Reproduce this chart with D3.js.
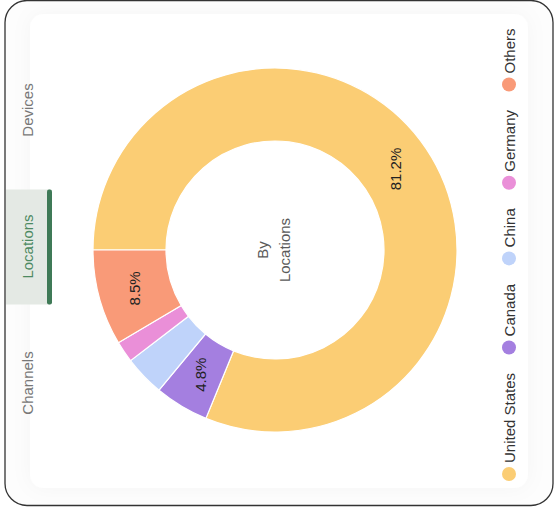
<!DOCTYPE html>
<html lang="en">
<head>
  <meta charset="UTF-8">
  <title>By Locations donut</title>
  <script src="https://d3js.org/d3.v7.min.js"></script>
  <style>
    body { margin: 0; background: #fff; }
    svg { display: block; font-family: "Liberation Sans", Arial, sans-serif; }
    .tab { font-size: 15px; fill: #777; }
    .tab.active { fill: #4d8a62; }
    .slice { stroke: #fff; stroke-width: 1.2px; }
    .pct { font-size: 15px; fill: #222; }
    .legend text { font-size: 15px; fill: #333; }
    .center { font-size: 15px; fill: #5a5a5a; }
  </style>
</head>
<body>
  <script>
    // chart data
    const countries = ["United States", "Canada", "China", "Germany", "Others"];
    const shares = [81.2, 4.8, 3.6, 1.9, 8.5];
    const sliceColors = ["#fbcd74", "#a47fe0", "#bfd3fa", "#ea8fd8", "#f99a78"];
    const tabs = ["Devices", "Locations", "Channels"];
    const activeTab = "Locations";

    const width = 555;
    const height = 508;

    const svg = d3.select("body").append("svg")
      .attr("width", width)
      .attr("height", height);

    const defs = svg.append("defs");
    const shadow = defs.append("filter").attr("id", "soft")
      .attr("x", "-10%").attr("y", "-10%").attr("width", "120%").attr("height", "120%");
    shadow.append("feDropShadow")
      .attr("dx", 0).attr("dy", 0)
      .attr("stdDeviation", 10)
      .attr("flood-color", "#000")
      .attr("flood-opacity", 0.035);

    // card frame
    svg.append("rect")
      .attr("x", 5).attr("y", 0.5)
      .attr("width", 548).attr("height", 505)
      .attr("rx", 22)
      .attr("fill", "#fdfdfd")
      .attr("stroke", "#333")
      .attr("stroke-width", 1.3);

    // inner panel
    svg.append("rect")
      .attr("x", 30).attr("y", 14)
      .attr("width", 498).attr("height", 474)
      .attr("rx", 14)
      .attr("fill", "#fff")
      .attr("filter", "url(#soft)");

    // tabs (rotated, on the left)
    const tabY = d3.scalePoint().domain(tabs).range([110, 383]);
    const active = tabY(activeTab);
    svg.append("rect")
      .attr("x", 6).attr("y", active - 57)
      .attr("width", 44).attr("height", 115)
      .attr("fill", "#e4e9e4");
    svg.append("rect")
      .attr("x", 47).attr("y", active - 57)
      .attr("width", 5).attr("height", 115)
      .attr("rx", 2)
      .attr("fill", "#3f7a57");

    svg.selectAll(".tab")
      .data(tabs)
      .enter().append("text")
      .attr("class", d => d === activeTab ? "tab active" : "tab")
      .attr("text-anchor", "middle")
      .attr("dominant-baseline", "central")
      .attr("transform", d => `translate(27.5,${tabY(d)}) rotate(-90)`)
      .text(d => d);

    // donut
    const cx = 275, cy = 250;
    const outerR = 182, innerR = 109;

    const color = d3.scaleOrdinal().domain(countries).range(sliceColors);

    const pie = d3.pie()
      .value((d, i) => shares[i])
      .sort(null)
      .startAngle(-Math.PI / 2)
      .endAngle(3 * Math.PI / 2);

    const arc = d3.arc().innerRadius(innerR).outerRadius(outerR);

    const arcs = pie(countries);
    const g = svg.append("g").attr("transform", `translate(${cx},${cy})`);

    g.selectAll(".slice")
      .data(arcs)
      .enter().append("path")
      .attr("class", "slice")
      .attr("d", arc)
      .attr("fill", d => color(d.data));

    g.selectAll(".pct")
      .data(arcs.filter(d => d.value >= 4))
      .enter().append("text")
      .attr("class", "pct")
      .attr("text-anchor", "middle")
      .attr("dominant-baseline", "central")
      .attr("transform", d => {
        const [x, y] = arc.centroid(d);
        return `translate(${x},${y}) rotate(-90)`;
      })
      .text(d => d.value.toFixed(1) + "%");

    // centre label
    const center = g.append("text")
      .attr("class", "center")
      .attr("text-anchor", "middle")
      .attr("transform", "translate(-2,0) rotate(-90)");
    center.append("tspan").attr("x", 0).attr("dy", "-0.35em").text("By");
    center.append("tspan").attr("x", 0).attr("dy", "1.45em").text("Locations");

    // legend (rotated, on the right, reading upward)
    const legend = svg.append("g").attr("class", "legend");
    let y = 474;
    countries.forEach(name => {
      const item = legend.append("g");
      item.append("circle")
        .attr("cx", 509).attr("cy", y)
        .attr("r", 7)
        .attr("fill", color(name));
      const t = item.append("text")
        .attr("dominant-baseline", "central")
        .attr("transform", `translate(509,${y - 11}) rotate(-90)`)
        .text(name);
      const len = t.node().getComputedTextLength();
      y = y - 11 - len - 25.5;
    });
  </script>
</body>
</html>
